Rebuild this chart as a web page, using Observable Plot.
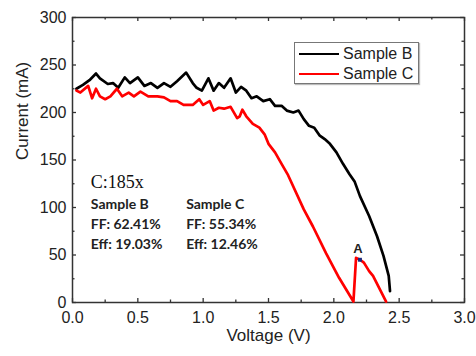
<!DOCTYPE html>
<html>
<head>
<meta charset="utf-8">
<script src="https://cdn.jsdelivr.net/npm/d3@7"></script>
<script src="https://cdn.jsdelivr.net/npm/@observablehq/plot@0.6"></script>
<style>
  body { margin: 0; background: #fff; }
  #wrap { position: relative; width: 476px; height: 356px; font-family: "Liberation Sans", Arial, sans-serif; }
  #legend { position: absolute; left: 294px; top: 42px; width: 123px; height: 40px; border: 1px solid #777; background: #fff; box-shadow: 1px 1px 1px #bbb; }
  .row { position: absolute; left: 4px; height: 20px; display: flex; align-items: center; font-size: 16px; color: #222; }
  .sw { width: 40px; height: 0; border-top: 2.5px solid; margin-right: 4px; }
</style>
</head>
<body>
<div id="wrap"></div>
<script>
// Sample B (black) : voltage V, current mA
const bV = [0.03,0.08,0.13,0.18,0.21,0.27,0.31,0.35,0.40,0.44,0.50,0.55,0.60,0.65,0.70,0.75,0.80,0.87,0.92,0.95,0.99,1.04,1.08,1.12,1.16,1.21,1.25,1.29,1.33,1.37,1.41,1.46,1.51,1.55,1.60,1.64,1.69,1.73,1.77,1.81,1.85,1.89,1.93,1.97,2.02,2.07,2.12,2.16,2.20,2.27,2.33,2.38,2.42,2.43];
const bI = [225,229,234,241,236,230,231,226,237,231,237,228,231,226,231,227,233,242,231,226,223,236,223,231,226,236,221,227,223,215,217,212,214,207,207,202,200,202,193,186,184,176,172,167,158,146,135,127,112,91,70,49,28,12];
// Sample C (red)
const cV = [0.03,0.06,0.12,0.15,0.18,0.21,0.25,0.29,0.34,0.38,0.43,0.47,0.52,0.58,0.65,0.70,0.75,0.80,0.85,0.92,0.97,1.00,1.05,1.08,1.12,1.16,1.21,1.26,1.28,1.30,1.33,1.38,1.43,1.47,1.50,1.55,1.60,1.65,1.77,1.84,1.94,2.04,2.15,2.17,2.20,2.23,2.27,2.30,2.40];
const cI = [223,221,228,215,225,217,214,217,225,217,221,217,222,217,217,216,212,212,208,208,214,208,212,202,205,204,206,194,196,203,196,188,184,177,167,158,146,134,98,80,52,26,1,47,45,42,33,28,1];
// Point A
const aV = [2.20];
const aI = [45];
// Ticks
const xMajor = [0, 0.5, 1.0, 1.5, 2.0, 2.5, 3.0];
const xMinor = [0.25, 0.75, 1.25, 1.75, 2.25, 2.75];
const yMajor = [0, 50, 100, 150, 200, 250, 300];
const yMinor = [25, 75, 125, 175, 225, 275];
// Annotations
const noteText = ["C:185x"];
const noteV = [0.14]; const noteI = [127];
const boldText = ["Sample B", "FF: 62.41%", "Eff: 19.03%", "Sample C", "FF: 55.34%", "Eff: 12.46%"];
const boldV = [0.14, 0.14, 0.14, 0.87, 0.87, 0.87];
const boldI = [103, 82, 61, 103, 82, 61];

const B = bV.map((v, i) => ({v, c: bI[i]}));
const C = cV.map((v, i) => ({v, c: cI[i]}));
const A = aV.map((v, i) => ({v, c: aI[i]}));
const bold = boldText.map((t, i) => ({t, v: boldV[i], c: boldI[i]}));
const notes = noteText.map((t, i) => ({t, v: noteV[i], c: noteI[i]}));

const W = 476, H = 356, mL = 72, mR = 12, mT = 17, mB = 54;
const pw = W - mL - mR, ph = H - mT - mB;

const chart = Plot.plot({
  width: W, height: H,
  marginLeft: mL, marginRight: mR, marginTop: mT, marginBottom: mB,
  style: {fontFamily: "Liberation Sans, Arial, sans-serif", color: "#222", background: "#fff"},
  x: {domain: [0, 3]},
  y: {domain: [0, 300]},
  marks: [
    Plot.axisX(xMajor, {tickSize: 0, tickPadding: 9, tickFormat: d3.format(".1f"), fontSize: 16, label: null}),
    Plot.axisY(yMajor, {tickSize: 0, tickPadding: 6, tickFormat: d3.format("d"), fontSize: 16, label: null}),
    // inward ticks: bottom, top, left, right
    Plot.tickX(xMajor, {x: d => d, insetTop: ph - 4, stroke: "#333", strokeWidth: 1.3}),
    Plot.tickX(xMinor, {x: d => d, insetTop: ph - 2.5, stroke: "#333", strokeWidth: 1.3}),
    Plot.tickX(xMajor, {x: d => d, insetBottom: ph - 4, stroke: "#333", strokeWidth: 1.3}),
    Plot.tickX(xMinor, {x: d => d, insetBottom: ph - 2.5, stroke: "#333", strokeWidth: 1.3}),
    Plot.tickY(yMajor, {y: d => d, insetRight: pw - 4, stroke: "#333", strokeWidth: 1.3}),
    Plot.tickY(yMinor, {y: d => d, insetRight: pw - 2.5, stroke: "#333", strokeWidth: 1.3}),
    Plot.tickY(yMajor, {y: d => d, insetLeft: pw - 4, stroke: "#333", strokeWidth: 1.3}),
    Plot.tickY(yMinor, {y: d => d, insetLeft: pw - 2.5, stroke: "#333", strokeWidth: 1.3}),
    Plot.frame({stroke: "#333", strokeWidth: 1.5}),
    Plot.line(B, {x: "v", y: "c", stroke: "#000", strokeWidth: 2.7}),
    Plot.line(C, {x: "v", y: "c", stroke: "#f00", strokeWidth: 2.7}),
    Plot.dot(A, {x: "v", y: "c", symbol: "square", r: 2.2, fill: "#1a2a80", stroke: "none"}),
    Plot.text(A, {x: "v", y: "c", text: () => "A", dy: -11, dx: -2, fontSize: 13, fontWeight: "bold", fill: "#222"}),
    Plot.text(notes, {x: "v", y: "c", text: "t", textAnchor: "start", fontSize: 18, fontFamily: "Liberation Serif, Times New Roman, serif", fill: "#111"}),
    Plot.text(bold, {x: "v", y: "c", text: "t", textAnchor: "start", fontSize: 14, fontWeight: "bold", fontFamily: "Lato, sans-serif", fill: "#222"}),
    Plot.text(["Voltage (V)"], {frameAnchor: "bottom", dy: 38, fontSize: 17, fill: "#222"}),
    Plot.text(["Current (mA)"], {frameAnchor: "left", dx: -50, rotate: -90, fontSize: 17, fill: "#222"})
  ]
});

const wrap = document.getElementById("wrap");
wrap.appendChild(chart);

const legendItems = [{name: "Sample B", color: "#000"}, {name: "Sample C", color: "#f00"}];
const lg = document.createElement("div");
lg.id = "legend";
legendItems.forEach((d, i) => {
  const row = document.createElement("div");
  row.className = "row";
  row.style.top = (i * 20 + 1) + "px";
  const sw = document.createElement("div");
  sw.className = "sw";
  sw.style.borderTopColor = d.color;
  const tx = document.createElement("span");
  tx.textContent = d.name;
  row.appendChild(sw); row.appendChild(tx);
  lg.appendChild(row);
});
wrap.appendChild(lg);
</script>
</body>
</html>
